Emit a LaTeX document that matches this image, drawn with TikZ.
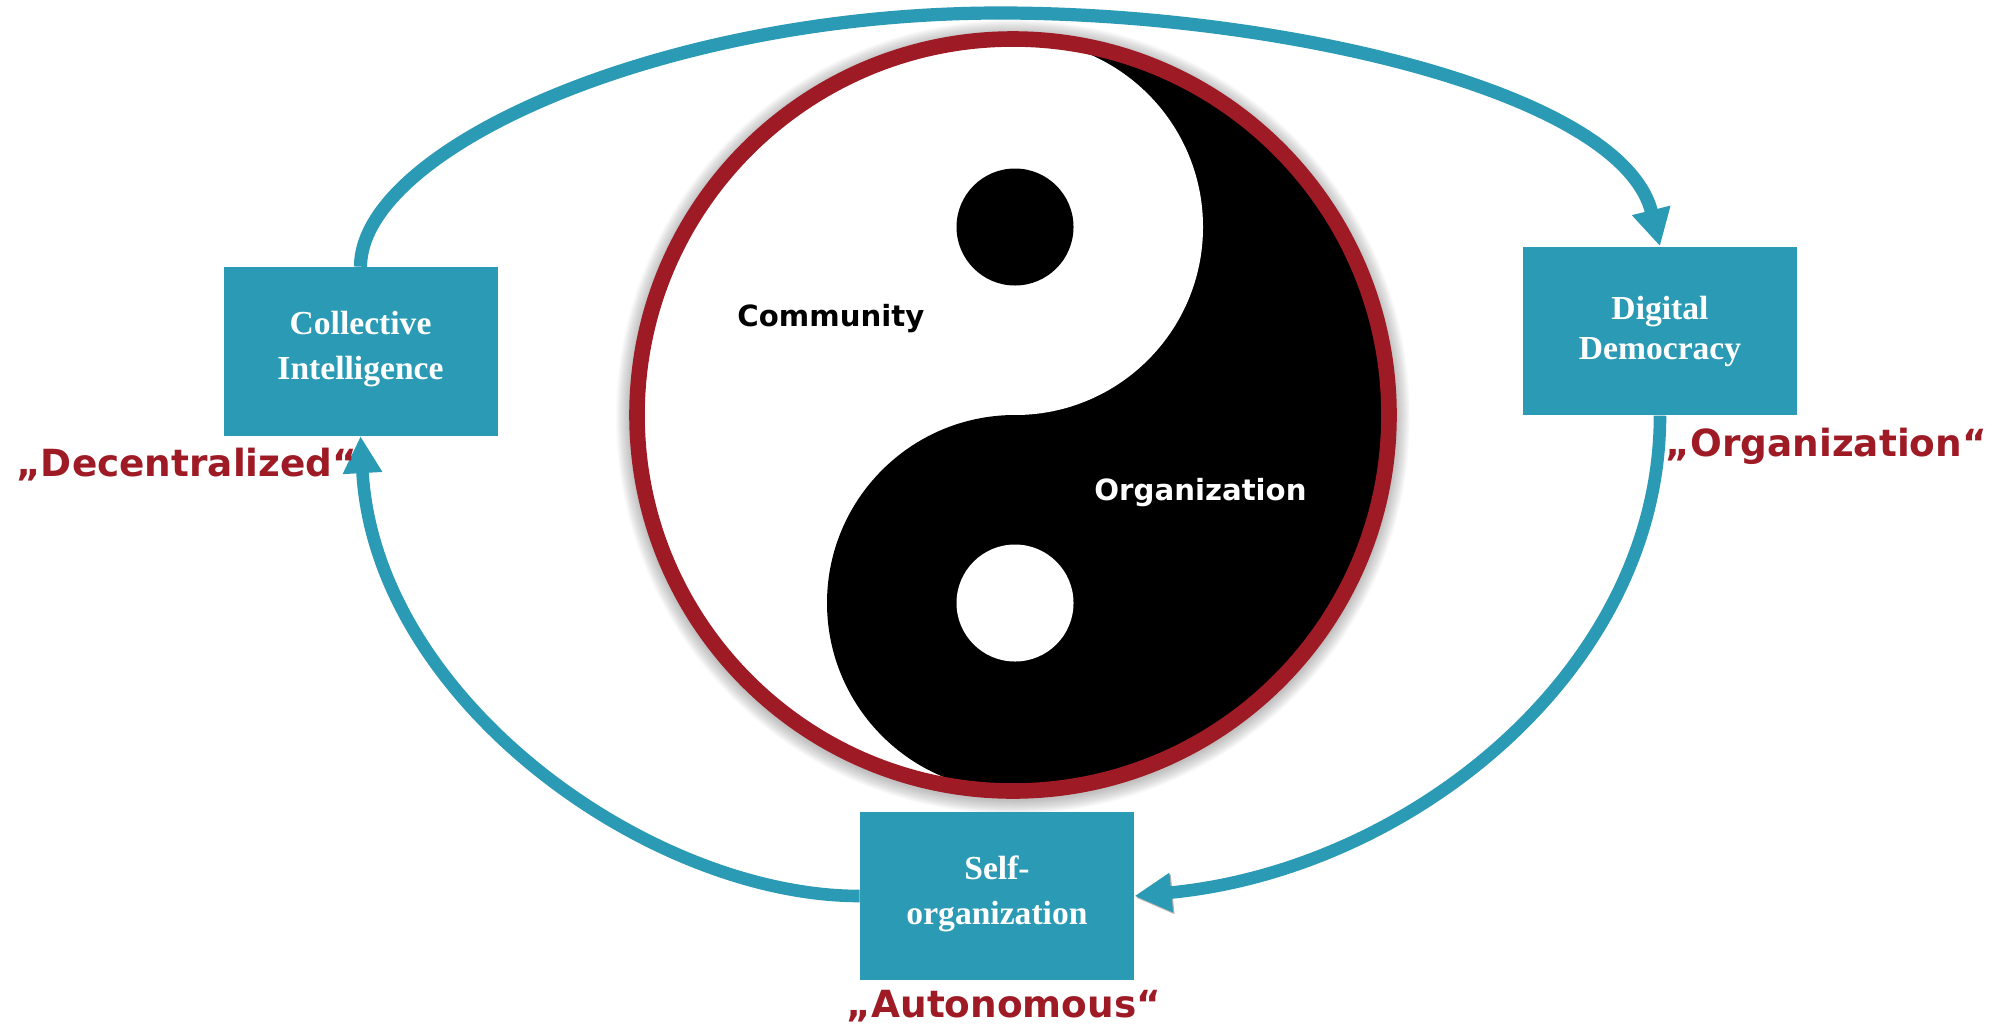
\documentclass[tikz,border=0pt]{standalone}
\usepackage{fontspec}
\setmainfont{Liberation Serif}
\newfontfamily\dejavu{DejaVu Sans}
\usetikzlibrary{arrows.meta}
\definecolor{teal1}{HTML}{2B9AB4}
\definecolor{dred}{HTML}{9E1B25}
\tikzset{
  box/.style={rectangle,fill=teal1,draw=none,inner sep=0pt,minimum width=137pt,minimum height=84.3pt,
    text=white,align=center,font=\fontsize{16.8pt}{22.5pt}\selectfont\bfseries},
  flow/.style={draw=teal1,line width=6.3pt,-{Triangle[length=18.5pt,width=18.5pt,fill=teal1]}},
  flowshadow/.style={preaction={draw=black,opacity=.3,transform canvas={shift={(.7pt,-.9pt)}}}},
  slogan/.style={inner sep=0pt,anchor=base west,text=dred,font=\fontsize{18.7pt}{22pt}\selectfont\dejavu\bfseries},
  yylabel/.style={inner sep=0pt,anchor=base west,font=\fontsize{14.6pt}{18pt}\selectfont\dejavu\bfseries},
}
\begin{document}
\begin{tikzpicture}[x=0.5pt,y=-0.5pt]
\useasboundingbox (0,0) rectangle (2000,1034);
% soft shadow of the disc
\foreach \r in {14,13,...,1}{\fill[black,opacity=.018] (1013,417) circle[radius=383+\r];}
% disc
\fill[black] (1013,415) circle[radius=376];
\begin{scope}
  \clip (1013,415) circle[radius=372];
  \fill[white] (600,0) rectangle (1015,415);
  \fill[white] (600,415) rectangle (1015,830);
  \fill[white] (1015,227) circle[radius=188];
  \fill[black] (1015,603) circle[radius=188];
\end{scope}
\fill[black] (1015,227) circle[radius=58.5];
\fill[white] (1015,603) circle[radius=58.5];
\draw[dred,line width=7.8pt] (1013,415) circle[radius=376];
% boxes
\node[box] (ci) at (360.5,351.4) {Collective\\Intelligence\rule[-6.2pt]{0pt}{0pt}};
\node[box] (dd) at (1660,331) {\rule{0pt}{12.4pt}Digital\\[-2.5pt]Democracy};
\node[box] (so) at (997,896) {Self-\\organization\rule[-6.2pt]{0pt}{0pt}};
% connectors
\draw[flow,line width=6.6pt] (ci.north) .. controls (360.5,150) and (660,13) .. (1000,13)
   .. controls (1280,13) and (1622,92) .. (dd.north);
\draw[flow,flowshadow] (dd.south) .. controls (1660,670) and (1410,870) .. (so.east);
\draw[flow] (so.west) .. controls (650,896) and (375,700) .. (ci.south);
% labels
\node[yylabel,text=black] (community) at (737,326.5) {Community};
\node[yylabel,text=white] (organization) at (1094,500) {Organization};
\node[slogan] (decentral) at (16,476) {„Decentralized“};
\node[slogan] (orga) at (1665.5,456) {„Organization“};
\node[slogan] (auto) at (846.5,1017) {„Autonomous“};
\end{tikzpicture}
\end{document}
